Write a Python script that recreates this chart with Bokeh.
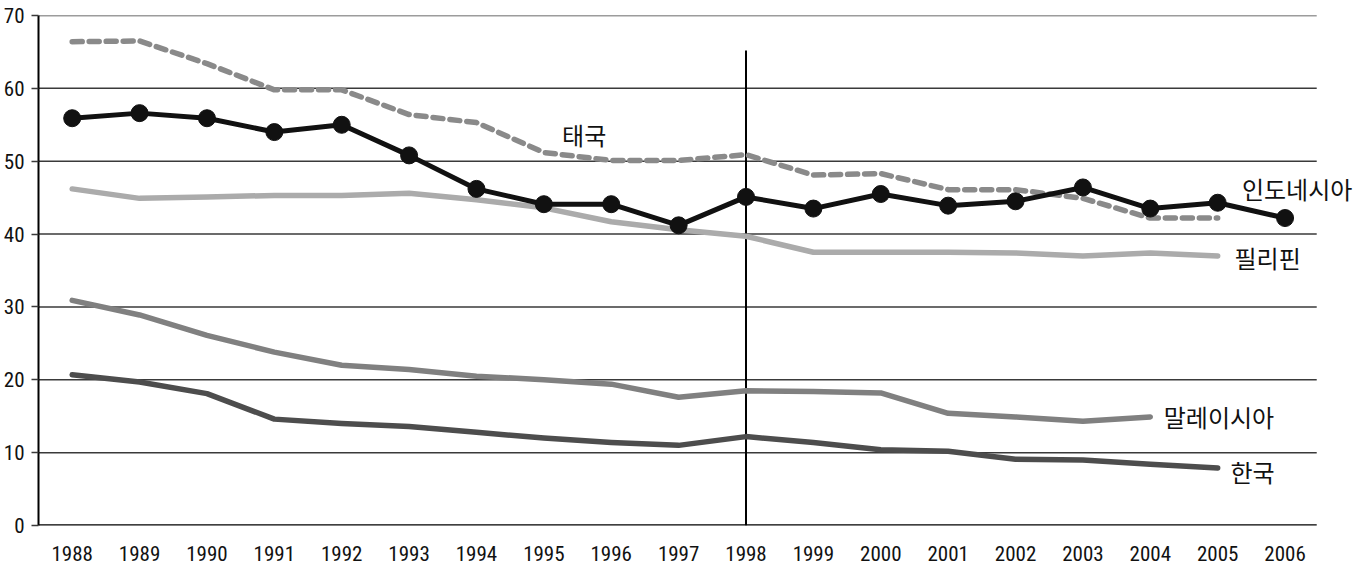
from bokeh.plotting import figure
from bokeh.models import FixedTicker, Label, Range1d
from bokeh.embed import file_html
from bokeh.resources import INLINE

years = list(range(1988, 2007))
tick_labels = [str(y) for y in years]
y_ticks = [0, 10, 20, 30, 40, 50, 60, 70]

thailand_years = list(range(1988, 2006))
thailand = [66.4, 66.5, 63.4, 59.8, 59.8, 56.4, 55.3, 51.2, 50.1, 50.1, 50.9, 48.1, 48.3, 46.1, 46.1, 44.9, 42.2, 42.2]

indonesia_years = list(range(1988, 2007))
indonesia = [55.9, 56.6, 55.9, 54.0, 55.0, 50.8, 46.2, 44.1, 44.1, 41.2, 45.1, 43.5, 45.5, 43.9, 44.5, 46.4, 43.5, 44.3, 42.2]

philippines_years = list(range(1988, 2006))
philippines = [46.2, 44.9, 45.1, 45.3, 45.3, 45.6, 44.7, 43.6, 41.7, 40.6, 39.7, 37.5, 37.5, 37.5, 37.4, 37.0, 37.4, 37.0]

malaysia_years = list(range(1988, 2005))
malaysia = [30.9, 28.9, 26.1, 23.8, 22.0, 21.4, 20.5, 20.0, 19.4, 17.6, 18.5, 18.4, 18.2, 15.4, 14.9, 14.3, 14.9]

korea_years = list(range(1988, 2006))
korea = [20.7, 19.7, 18.1, 14.6, 14.0, 13.6, 12.8, 12.0, 11.4, 11.0, 12.2, 11.4, 10.4, 10.2, 9.1, 9.0, 8.4, 7.9]

crisis_year = [1998]
crisis_top = [65.2]

series_labels = ["태국", "인도네시아", "필리핀", "말레이시아", "한국"]
label_x = [1995.27, 2005.36, 2005.25, 2004.2, 2005.19]
label_y = [53.7, 46.3, 36.8, 15.0, 7.4]

NUM_FONT = "'Liberation Sans Narrow', 'Roboto Condensed', 'Open Sans'"
KR_FONT = "Noto Sans CJK KR"

X_START, X_END_GRID, X_END_FRAME = 1987.5, 2006.47, 2007.09

p = figure(width=1358, height=567, output_backend="svg", toolbar_location=None,
           x_range=Range1d(X_START, X_END_FRAME), y_range=Range1d(0, 70),
           min_border_left=37, min_border_right=0, min_border_top=15, min_border_bottom=42)
p.outline_line_color = None
p.background_fill_color = "white"
p.border_fill_color = "white"

p.xgrid.grid_line_color = None
p.ygrid.grid_line_color = None

p.xaxis.ticker = FixedTicker(ticks=years)
p.xaxis.major_label_overrides = {y: s for y, s in zip(years, tick_labels)}
p.xaxis.major_tick_line_color = None
p.xaxis.minor_tick_line_color = None
p.xaxis.axis_line_color = None
p.xaxis.major_label_standoff = 14
p.xaxis.major_label_text_font = NUM_FONT
p.xaxis.major_label_text_font_size = "21px"
p.xaxis.major_label_text_color = "#111111"

p.yaxis.ticker = FixedTicker(ticks=y_ticks)
p.yaxis.minor_tick_line_color = None
p.yaxis.major_tick_in = 0
p.yaxis.major_tick_out = 7
p.yaxis.major_tick_line_color = "#3a3a3a"
p.yaxis.major_tick_line_width = 1.5
p.yaxis.axis_line_color = "black"
p.yaxis.axis_line_width = 2
p.yaxis.major_label_standoff = 7
p.yaxis.major_label_text_font = NUM_FONT
p.yaxis.major_label_text_font_size = "21px"
p.yaxis.major_label_text_color = "#111111"

# horizontal gridlines limited to the plotted year span
grid_vals = y_ticks[1:]
p.segment(x0=[X_START] * len(grid_vals), y0=grid_vals, x1=[X_END_GRID] * len(grid_vals), y1=grid_vals,
          line_color="#3a3a3a", line_width=1.5)
# baseline (x axis line)
p.segment(x0=[X_START], y0=[0], x1=[X_END_GRID], y1=[0], line_color="black", line_width=2.5)

# crisis marker line
p.segment(x0=crisis_year, y0=[0], x1=crisis_year, y1=crisis_top, line_color="black", line_width=2)

p.line(korea_years, korea, line_color="#4d4d4d", line_width=5.5, line_join="round", line_cap="round")
p.line(malaysia_years, malaysia, line_color="#808080", line_width=5.5, line_join="round", line_cap="round")
p.line(philippines_years, philippines, line_color="#ababab", line_width=5.5, line_join="round", line_cap="round")
p.line(thailand_years, thailand, line_color="#8a8a8a", line_width=5.5, line_dash="10 7",
       line_join="round", line_cap="round")
p.line(indonesia_years, indonesia, line_color="#111111", line_width=5, line_join="round")
p.scatter(indonesia_years, indonesia, size=17, fill_color="#111111", line_color="#111111")

for t, x, y in zip(series_labels, label_x, label_y):
    p.add_layout(Label(x=x, y=y, text=t, text_font=KR_FONT, text_font_size="24px",
                       text_color="#111111", text_baseline="middle", text_align="left"))

open("out.html", "w").write(file_html(p, INLINE))
